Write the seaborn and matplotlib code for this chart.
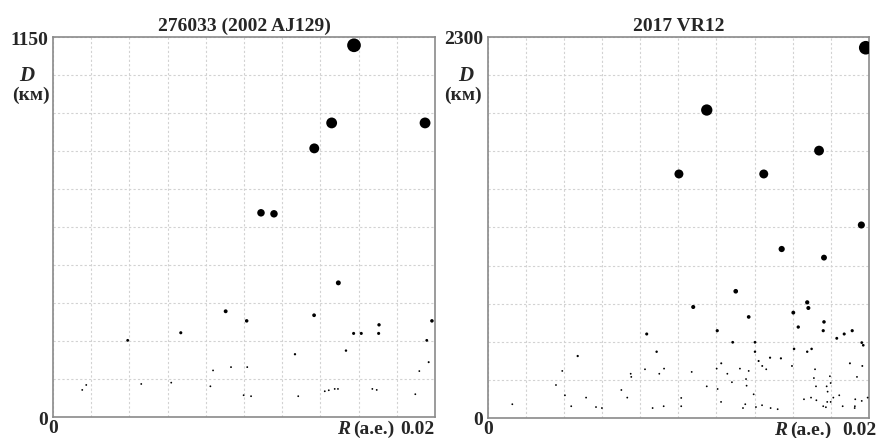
import numpy as np
import pandas as pd
import matplotlib
matplotlib.use('Agg')
import matplotlib.pyplot as plt
import seaborn as sns

# --- data (R in a.e., D in km) ---
r_max = 0.02

left_title = '276033 (2002 AJ129)'
left_dmax = 1150
left_R = [0.01576, 0.01459, 0.01948, 0.01368, 0.01089, 0.01157, 0.01494, 0.00904, 0.01014, 0.00669,
          0.00391, 0.01367, 0.01574, 0.01614, 0.01707, 0.01705, 0.01984, 0.01957, 0.00153, 0.00174,
          0.00462, 0.00619, 0.00824, 0.00838, 0.00932, 0.01017, 0.00998, 0.01037, 0.01267, 0.01284,
          0.01423, 0.01444, 0.01475, 0.01492, 0.01534, 0.01672, 0.01695, 0.01897, 0.01918, 0.01967]
left_D = [1125, 890, 890, 813, 618, 615, 406, 320, 291, 255,
          232, 308, 253, 253, 279, 253, 291, 232, 82, 97,
          100, 104, 93, 141, 151, 151, 66, 63, 190, 63,
          78, 81, 85, 85, 201, 85, 82, 69, 139, 166]

right_title = '2017 VR12'
right_dmax = 2300
right_R = [0.01983, 0.01149, 0.01738, 0.01003, 0.01448, 0.01960, 0.01542, 0.01764, 0.01301,
           0.01078, 0.01676, 0.01682, 0.01603, 0.01369, 0.01629, 0.01764, 0.01760, 0.01204, 0.00834,
           0.01870, 0.01912, 0.01831, 0.01285, 0.01402, 0.01962, 0.01970, 0.01257,
           0.00129, 0.00358, 0.00391, 0.00405, 0.00472, 0.00438, 0.00516, 0.00568, 0.00599, 0.00701,
           0.00732, 0.00750, 0.00753, 0.00825, 0.00865, 0.00886, 0.00900, 0.00925, 0.00923, 0.01015,
           0.01015, 0.01070, 0.01149, 0.01201, 0.01206, 0.01225, 0.01224, 0.01281, 0.01323, 0.01339,
           0.01351, 0.01355, 0.01358, 0.01369, 0.01395, 0.01402, 0.01407, 0.01421, 0.01439, 0.01440,
           0.01461, 0.01481, 0.01484, 0.01521, 0.01538, 0.01596, 0.01607, 0.01659, 0.01676, 0.01696,
           0.01699, 0.01717, 0.01711, 0.01722, 0.01724, 0.01760, 0.01774, 0.01778, 0.01783, 0.01781,
           0.01795, 0.01799, 0.01799, 0.01813, 0.01844, 0.01862, 0.01900, 0.01928, 0.01926, 0.01925,
           0.01937, 0.01962, 0.01965, 0.01993]
right_D = [2235, 1859, 1614, 1473, 1473, 1165, 1020, 968, 765,
           670, 698, 664, 636, 610, 549, 580, 527, 527, 507,
           507, 527, 481, 457, 457, 455, 439, 267,
           83, 199, 284, 137, 374, 71, 123, 66, 60, 169,
           123, 267, 248, 294, 60, 400, 267, 298, 71, 121,
           71, 278, 191, 298, 175, 330, 97, 216, 298, 60,
           83, 235, 195, 284, 143, 400, 66, 344, 77, 314,
           294, 364, 60, 53, 360, 314, 417, 113, 400, 123,
           417, 294, 241, 191, 107, 71, 65, 191, 159, 97,
           252, 211, 97, 123, 137, 71, 330, 113, 71, 60,
           248, 103, 314, 123]

sns.set_style('white')
plt.rcParams['font.family'] = ['Liberation Serif', 'DejaVu Serif']
plt.rcParams['font.weight'] = 'bold'

fig = plt.figure(figsize=(8.85, 4.39), dpi=100)
ax1 = fig.add_axes([0.0599, 0.0478, 0.4316, 0.8656])
ax2 = fig.add_axes([0.5511, 0.0456, 0.4308, 0.8679])

FS = 14


def draw_panel(ax, R, D, dmax, title, r_pos, last_x, d_x, km_x):
    df = pd.DataFrame({'R': R, 'D': D})
    # marker diameter grows with D (in pixels, max ~14 px at the top of the axis)
    diam = np.maximum(14 * df['D'] / dmax, 1.8)
    sizes = (diam * 72 / 100) ** 2
    sns.scatterplot(data=df, x='R', y='D', s=sizes, color='black', linewidth=0, ax=ax, zorder=3)
    ax.set_xlim(0, r_max)
    ax.set_ylim(0, dmax)
    ax.set_xticks(np.linspace(0, r_max, 11))
    ax.set_yticks(np.linspace(0, dmax, 11))
    ax.set_xticklabels(['0'] + [''] * 10)
    ax.set_yticklabels(['0'] + [''] * 9 + [str(dmax)])
    ax.tick_params(axis='both', length=0, labelsize=FS)
    ax.tick_params(axis='x', pad=1.5)
    ax.tick_params(axis='y', pad=3.5)
    ax.grid(True, color='#d2d2d2', linestyle=(0, (2, 2)), linewidth=0.8)
    for sp in ax.spines.values():
        sp.set_color('#8a8a8a')
        sp.set_linewidth(1.2)
    ax.set_xlabel('')
    ax.set_ylabel('')
    ax.set_title(title, fontsize=FS, fontweight='bold', pad=5)
    ax.text(last_x, -0.031, '0.02', transform=ax.transAxes, ha='right', va='center', fontsize=FS)
    ax.text(r_pos, -0.031, 'R', transform=ax.transAxes, ha='left', va='center', fontsize=FS,
            style='italic')
    ax.text(r_pos + 0.041, -0.031, '(a.e.)', transform=ax.transAxes, ha='left', va='center',
            fontsize=FS)
    ax.text(d_x, 0.9, 'D', transform=ax.transAxes, ha='center', va='center', fontsize=FS + 1,
            style='italic')
    ax.text(km_x, 0.85, '(км)', transform=ax.transAxes, ha='center', va='center', fontsize=FS)


draw_panel(ax1, left_R, left_D, left_dmax, left_title, 0.744, 1.0, -0.07, -0.058)
draw_panel(ax2, right_R, right_D, right_dmax, right_title, 0.752, 1.021, -0.057, -0.066)

fig.savefig('out.png', dpi=100)
